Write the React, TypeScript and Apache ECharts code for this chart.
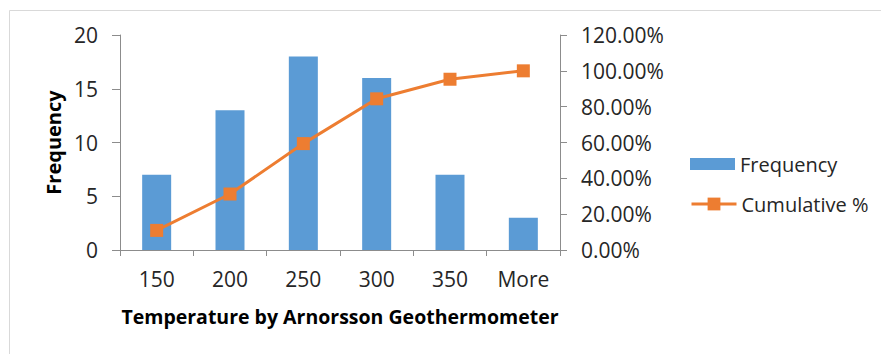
import React, { useEffect, useRef } from "react";
import * as echarts from "echarts";

const categories = ["150", "200", "250", "300", "350", "More"];
const frequency = [7, 13, 18, 16, 7, 3];
const cumulative = [0.1094, 0.3125, 0.5938, 0.8438, 0.9531, 1.0];
const leftTicks = { min: 0, max: 20, interval: 5 };
const rightTicks = { min: 0, max: 1.2, interval: 0.2 };

const FONT = "Open Sans";
const AXIS_COLOR = "#8C8C8C";
const TEXT_COLOR = "#262626";
const BAR_COLOR = "#5B9BD5";
const LINE_COLOR = "#ED7D31";

export default function App() {
  const ref = useRef<HTMLDivElement>(null);
  useEffect(() => {
    if (!ref.current) return;
    const chart = echarts.init(ref.current, undefined, { renderer: "svg" });
    chart.setOption({
      animation: false,
      backgroundColor: "#ffffff",
      textStyle: { fontFamily: FONT },
      graphic: [
        {
          type: "rect",
          shape: { x: 9.5, y: 10.5, width: 900, height: 400 },
          style: { fill: "none", stroke: "#D9D9D9", lineWidth: 1 },
          silent: true,
          z: -10,
        },
      ],
      grid: { left: 120, right: 321, top: 35, bottom: 104, containLabel: false },
      legend: [
        {
          orient: "vertical",
          left: 690,
          top: 154,
          padding: 0,
          itemWidth: 45,
          itemHeight: 12,
          textStyle: { fontFamily: FONT, fontSize: 20, color: TEXT_COLOR },
          data: [{ name: "Frequency", icon: "rect" }],
        },
        {
          orient: "vertical",
          left: 690,
          top: 194,
          padding: 0,
          itemWidth: 45,
          itemHeight: 16,
          textStyle: { fontFamily: FONT, fontSize: 20, color: TEXT_COLOR },
          data: [{ name: "Cumulative %", lineStyle: { width: 3 } }],
        },
      ],
      xAxis: {
        type: "category",
        data: categories,
        boundaryGap: true,
        name: "Temperature by Arnorsson Geothermometer",
        nameLocation: "middle",
        nameGap: 56,
        nameTextStyle: { fontFamily: FONT, fontSize: 19.5, fontWeight: "bold", color: "#000" },
        axisLine: { show: true, lineStyle: { color: AXIS_COLOR, width: 1 } },
        axisTick: { show: true, length: 6, alignWithLabel: false, lineStyle: { color: AXIS_COLOR } },
        axisLabel: { fontFamily: FONT, fontSize: 21, color: TEXT_COLOR, margin: 18 },
        splitLine: { show: false },
      },
      yAxis: [
        {
          type: "value",
          min: leftTicks.min,
          max: leftTicks.max,
          interval: leftTicks.interval,
          name: "Frequency",
          nameLocation: "middle",
          nameRotate: 90,
          nameGap: 57,
          nameTextStyle: { fontFamily: FONT, fontSize: 20, fontWeight: "bold", color: "#000" },
          axisLine: { show: true, lineStyle: { color: AXIS_COLOR, width: 1 } },
          axisTick: { show: true, length: 8, lineStyle: { color: AXIS_COLOR } },
          axisLabel: { fontFamily: FONT, fontSize: 21, color: TEXT_COLOR, margin: 22 },
          splitLine: { show: false },
        },
        {
          type: "value",
          min: rightTicks.min,
          max: rightTicks.max,
          interval: rightTicks.interval,
          position: "right",
          axisLine: { show: true, lineStyle: { color: AXIS_COLOR, width: 1 } },
          axisTick: { show: true, length: 7, lineStyle: { color: AXIS_COLOR } },
          axisLabel: {
            fontFamily: FONT,
            fontSize: 21,
            color: TEXT_COLOR,
            margin: 21,
            formatter: (v: number) => (v * 100).toFixed(2) + "%",
          },
          splitLine: { show: false },
        },
      ],
      series: [
        {
          name: "Frequency",
          type: "bar",
          data: frequency,
          yAxisIndex: 0,
          barWidth: 29,
          itemStyle: { color: BAR_COLOR },
        },
        {
          name: "Cumulative %",
          type: "line",
          data: cumulative,
          yAxisIndex: 1,
          symbol: "rect",
          symbolSize: 13,
          lineStyle: { color: LINE_COLOR, width: 3 },
          itemStyle: { color: LINE_COLOR },
          z: 5,
        },
      ],
    });
    return () => chart.dispose();
  }, []);
  return (
    <div
      ref={ref}
      style={{ position: "fixed", left: 0, top: 0, width: 881, height: 354 }}
    />
  );
}
